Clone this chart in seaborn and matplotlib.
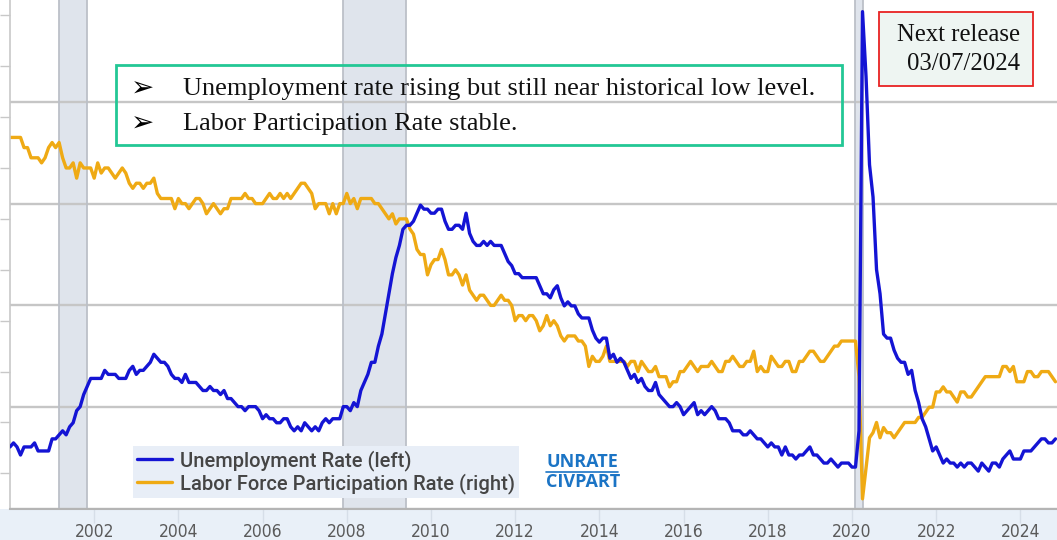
import numpy as np
import pandas as pd
import matplotlib
matplotlib.use("Agg")
import matplotlib.pyplot as plt
import seaborn as sns
from matplotlib.patches import Rectangle
from matplotlib.lines import Line2D
from matplotlib.ticker import FixedLocator

# Monthly series, Jan 2000 - Nov 2024
unrate = [
    4.0, 4.1, 4.0, 3.8, 4.0, 4.0, 4.0, 4.1, 3.9, 3.9, 3.9, 3.9,   # 2000
    4.2, 4.2, 4.3, 4.4, 4.3, 4.5, 4.6, 4.9, 5.0, 5.3, 5.5, 5.7,   # 2001
    5.7, 5.7, 5.7, 5.9, 5.8, 5.8, 5.8, 5.7, 5.7, 5.7, 5.9, 6.0,   # 2002
    5.8, 5.9, 5.9, 6.0, 6.1, 6.3, 6.2, 6.1, 6.1, 6.0, 5.8, 5.7,   # 2003
    5.7, 5.6, 5.8, 5.6, 5.6, 5.6, 5.5, 5.4, 5.4, 5.5, 5.4, 5.4,   # 2004
    5.3, 5.4, 5.2, 5.2, 5.1, 5.0, 5.0, 4.9, 5.0, 5.0, 5.0, 4.9,   # 2005
    4.7, 4.8, 4.7, 4.7, 4.6, 4.6, 4.7, 4.7, 4.5, 4.4, 4.5, 4.4,   # 2006
    4.6, 4.5, 4.4, 4.5, 4.4, 4.6, 4.7, 4.6, 4.7, 4.7, 4.7, 5.0,   # 2007
    5.0, 4.9, 5.1, 5.0, 5.4, 5.6, 5.8, 6.1, 6.1, 6.5, 6.8, 7.3,   # 2008
    7.8, 8.3, 8.7, 9.0, 9.4, 9.5, 9.5, 9.6, 9.8, 10.0, 9.9, 9.9,  # 2009
    9.8, 9.8, 9.9, 9.9, 9.6, 9.4, 9.4, 9.5, 9.5, 9.4, 9.8, 9.3,   # 2010
    9.1, 9.0, 9.0, 9.1, 9.0, 9.1, 9.0, 9.0, 9.0, 8.8, 8.6, 8.5,   # 2011
    8.3, 8.3, 8.2, 8.2, 8.2, 8.2, 8.2, 8.0, 7.8, 7.8, 7.7, 7.9,   # 2012
    8.0, 7.7, 7.5, 7.6, 7.5, 7.5, 7.3, 7.2, 7.2, 7.2, 6.9, 6.7,   # 2013
    6.6, 6.7, 6.7, 6.2, 6.3, 6.1, 6.2, 6.1, 5.9, 5.7, 5.8, 5.6,   # 2014
    5.7, 5.5, 5.4, 5.4, 5.6, 5.3, 5.2, 5.1, 5.0, 5.0, 5.1, 5.0,   # 2015
    4.8, 4.9, 5.0, 5.1, 4.8, 4.9, 4.8, 4.9, 5.0, 4.9, 4.7, 4.7,   # 2016
    4.7, 4.6, 4.4, 4.4, 4.4, 4.3, 4.3, 4.4, 4.3, 4.2, 4.2, 4.1,   # 2017
    4.0, 4.1, 4.0, 4.0, 3.8, 4.0, 3.8, 3.8, 3.7, 3.8, 3.8, 3.9,   # 2018
    4.0, 3.8, 3.8, 3.7, 3.6, 3.6, 3.7, 3.6, 3.5, 3.6, 3.6, 3.6,   # 2019
    3.5, 3.5, 4.4, 14.8, 13.2, 11.0, 10.2, 8.4, 7.8, 6.8, 6.7, 6.7,  # 2020
    6.4, 6.2, 6.1, 6.1, 5.8, 5.9, 5.4, 5.1, 4.7, 4.5, 4.2, 3.9,   # 2021
    4.0, 3.8, 3.6, 3.7, 3.6, 3.6, 3.5, 3.6, 3.5, 3.6, 3.6, 3.5,   # 2022
    3.4, 3.6, 3.5, 3.4, 3.6, 3.6, 3.5, 3.7, 3.8, 3.9, 3.7, 3.7,   # 2023
    3.7, 3.9, 3.9, 3.9, 4.0, 4.1, 4.2, 4.2, 4.1, 4.1, 4.2,        # 2024
]

civpart = [
    67.3, 67.3, 67.3, 67.3, 67.1, 67.1, 66.9, 66.9, 66.9, 66.8, 66.9, 67.1,  # 2000
    67.2, 67.1, 67.2, 66.9, 66.7, 66.7, 66.8, 66.5, 66.8, 66.7, 66.7, 66.7,  # 2001
    66.5, 66.8, 66.6, 66.7, 66.7, 66.6, 66.5, 66.6, 66.7, 66.6, 66.4, 66.3,  # 2002
    66.4, 66.4, 66.3, 66.4, 66.4, 66.5, 66.2, 66.1, 66.1, 66.1, 66.1, 65.9,  # 2003
    66.1, 66.0, 66.0, 65.9, 66.0, 66.1, 66.1, 66.0, 65.8, 65.9, 66.0, 65.9,  # 2004
    65.8, 65.9, 65.9, 66.1, 66.1, 66.1, 66.1, 66.2, 66.1, 66.1, 66.0, 66.0,  # 2005
    66.0, 66.1, 66.2, 66.1, 66.1, 66.2, 66.1, 66.2, 66.1, 66.2, 66.3, 66.4,  # 2006
    66.4, 66.3, 66.2, 65.9, 66.0, 66.0, 66.0, 65.8, 66.0, 65.8, 66.0, 66.0,  # 2007
    66.2, 66.0, 66.1, 65.9, 66.1, 66.1, 66.1, 66.1, 66.0, 66.0, 65.9, 65.8,  # 2008
    65.7, 65.8, 65.6, 65.7, 65.7, 65.7, 65.5, 65.4, 65.1, 65.0, 65.0, 64.6,  # 2009
    64.8, 64.9, 64.9, 65.1, 64.9, 64.6, 64.6, 64.7, 64.6, 64.4, 64.6, 64.3,  # 2010
    64.2, 64.1, 64.2, 64.2, 64.1, 64.0, 64.0, 64.1, 64.2, 64.1, 64.1, 64.0,  # 2011
    63.7, 63.8, 63.8, 63.7, 63.8, 63.8, 63.7, 63.5, 63.6, 63.8, 63.6, 63.7,  # 2012
    63.6, 63.4, 63.3, 63.4, 63.4, 63.4, 63.3, 63.3, 63.2, 62.8, 63.0, 62.9,  # 2013
    62.9, 63.0, 63.2, 62.9, 62.9, 62.9, 62.9, 62.9, 62.8, 62.9, 62.9, 62.7,  # 2014
    62.9, 62.8, 62.7, 62.7, 62.8, 62.6, 62.6, 62.6, 62.4, 62.5, 62.5, 62.7,  # 2015
    62.7, 62.8, 62.9, 62.8, 62.7, 62.8, 62.8, 62.8, 62.9, 62.8, 62.7, 62.7,  # 2016
    62.9, 62.9, 63.0, 62.9, 62.8, 62.8, 62.9, 62.9, 63.1, 62.7, 62.8, 62.7,  # 2017
    62.7, 63.0, 62.9, 62.8, 62.8, 62.9, 62.9, 62.7, 62.7, 62.9, 62.9, 63.0,  # 2018
    63.1, 63.1, 63.0, 62.9, 62.9, 63.0, 63.1, 63.2, 63.2, 63.3, 63.3, 63.3,  # 2019
    63.3, 63.3, 62.6, 60.2, 60.8, 61.4, 61.5, 61.7, 61.4, 61.6, 61.5, 61.5,  # 2020
    61.4, 61.5, 61.6, 61.7, 61.7, 61.7, 61.7, 61.8, 61.8, 61.9, 62.0, 62.0,  # 2021
    62.3, 62.3, 62.4, 62.3, 62.3, 62.2, 62.1, 62.3, 62.3, 62.2, 62.2, 62.3,  # 2022
    62.4, 62.5, 62.6, 62.6, 62.6, 62.6, 62.6, 62.8, 62.8, 62.7, 62.8, 62.5,  # 2023
    62.5, 62.5, 62.7, 62.7, 62.6, 62.6, 62.7, 62.7, 62.7, 62.6, 62.5,        # 2024
]

start_year = 2000
recessions = [(2001.167, 2001.833), (2007.917, 2009.417), (2020.083, 2020.25)]
tick_years = list(range(2002, 2025, 2))
legend_labels = ["Unemployment Rate (left)", "Labor Force Participation Rate (right)"]
series_ids = ["UNRATE", "CIVPART"]
bullets = ["Unemployment rate rising but still near historical low level.",
           "Labor Participation Rate stable."]
release_lines = ["Next release", "03/07/2024"]

BLUE = "#1414d4"
ORANGE = "#efaa14"
GRID = "#c6c6c6"
BAND = "#dfe4ec"
BAND_EDGE = "#bcc0c8"

t = start_year + np.arange(len(unrate)) / 12.0
df = pd.DataFrame({"t": t, "unrate": unrate, "civpart": civpart})

sns.set_theme(style="white")
plt.rcParams["font.family"] = ["DejaVu Sans"]

W, H = 1057, 540
fig = plt.figure(figsize=(W / 100, H / 100), dpi=100, facecolor="white")

# light strip under the date axis
fig.add_artist(Rectangle((0, 0), 1, 31 / H, transform=fig.transFigure,
                         facecolor="#e9f0f8", edgecolor="none", zorder=0))

ax = fig.add_axes([10 / W, 1 - 509 / H, 1 - 10 / W, 509 / H])
ax2 = ax.twinx()
ax.set_zorder(2)
ax2.set_zorder(1)
ax.patch.set_visible(False)
ax2.patch.set_visible(False)

# recession bands, grid and participation rate on the rear axes
for a, b in recessions:
    ax2.axvspan(a, b, facecolor=BAND, edgecolor="none", zorder=0.5)
    ax2.axvline(a, color=BAND_EDGE, lw=1.3, zorder=0.6)
    ax2.axvline(b, color=BAND_EDGE, lw=1.3, zorder=0.6)

sns.lineplot(data=df, x="t", y="civpart", ax=ax2, color=ORANGE, lw=2.4,
             legend=False, zorder=3)
part_line = ax2.lines[-1]
sns.lineplot(data=df, x="t", y="unrate", ax=ax, color=BLUE, lw=2.4,
             legend=False, zorder=3)
unemp_line = ax.lines[-1]

ax.set_xlim(2000.0, 2024.87)
ax.set_ylim(2.46, 15.09)
ax2.set_ylim(60.0, 70.0)

ax2.set_yticks(np.arange(60, 70, 2))
ax2.yaxis.set_minor_locator(FixedLocator(np.arange(60.7, 70, 1.0)))
ax2.grid(axis="y", which="major", color=GRID, lw=1.7)
ax2.tick_params(axis="y", which="major", length=0, labelleft=False, labelright=False)
ax2.tick_params(axis="y", which="minor", left=True, right=False, length=7,
                width=1, color="#c8c8c8", direction="out")
ax2.set_ylabel("")
for s in ax2.spines.values():
    s.set_visible(False)

ax.set_yticks([])
ax.set_xlabel("")
ax.set_ylabel("")
ax.set_xticks(tick_years)
ax.set_xticklabels([str(y) for y in tick_years],
                   fontfamily=["Liberation Sans Narrow", "DejaVu Sans"],
                   fontstretch="condensed", fontsize=12.5, color="#5a5a5a")
ax.tick_params(axis="x", bottom=True, length=10, width=1, color="#d6dee8",
               direction="out", pad=0)
ax.spines["top"].set_visible(False)
ax.spines["right"].set_visible(False)
ax.spines["left"].set_color("#c8c8c8")
ax.spines["left"].set_linewidth(1.2)
ax.spines["bottom"].set_color("#b4b4b4")
ax.spines["bottom"].set_linewidth(1.5)

# legend
leg = fig.legend(handles=[unemp_line, part_line], labels=legend_labels,
                 loc="lower left", bbox_to_anchor=(133 / W, 1 - 498 / H),
                 borderaxespad=0, borderpad=0.2, labelspacing=0.12,
                 handlelength=1.75, handletextpad=0.4,
                 prop={"family": "Roboto", "size": 14.5, "weight": "medium"},
                 labelcolor="#454545", frameon=True, fancybox=False,
                 facecolor="#e8eef7", edgecolor="none", framealpha=1)
leg.set_zorder(5)

# series codes
link_color = "#1b74c5"
code_texts = []
for i, code in enumerate(series_ids):
    code_texts.append(fig.text(546 / W, 1 - (462 + 20 * i) / H, code,
                               ha="left", va="center", fontfamily="Open Sans",
                               fontweight="bold", fontsize=13, color=link_color))

# commentary box
fig.add_artist(Rectangle((116 / W, 1 - 145 / H), (842 - 116) / W, 80 / H,
                         transform=fig.transFigure, fill=False,
                         edgecolor="#23c795", lw=2.0, zorder=6))
for i, line in enumerate(bullets):
    y = 1 - (89 + 35 * i) / H
    fig.text(143 / W, y, "\u27a2", ha="center", va="center",
             fontfamily=["DejaVu Sans"], fontsize=20, fontweight="bold",
             color="#000000")
    fig.text(183 / W, y, line, ha="left", va="center",
             fontfamily=["Liberation Serif", "DejaVu Serif"], fontsize=19,
             color="#111111")

# release date box
fig.add_artist(Rectangle((879 / W, 1 - 86 / H), 154 / W, 74 / H,
                         transform=fig.transFigure, facecolor="#eef5f2",
                         edgecolor="#e82222", lw=1.3, zorder=6))
for i, line in enumerate(release_lines):
    fig.text(1020 / W, 1 - (35 + 29 * i) / H, line, ha="right", va="center",
             fontfamily=["Liberation Serif", "DejaVu Serif"], fontsize=17.8,
             color="#111111", zorder=7)

# underline the first series code
fig.canvas.draw()
renderer = fig.canvas.get_renderer()
bb = code_texts[0].get_window_extent(renderer=renderer)
inv = fig.transFigure.inverted()
(x0, y0), (x1, _) = inv.transform([(bb.x0, bb.y0), (bb.x1, bb.y0)])
fig.add_artist(Line2D([x0, x1], [y0 - 1 / H, y0 - 1 / H], transform=fig.transFigure,
                      color=link_color, lw=1.2))

fig.savefig("out.png", dpi=100, facecolor="white")
